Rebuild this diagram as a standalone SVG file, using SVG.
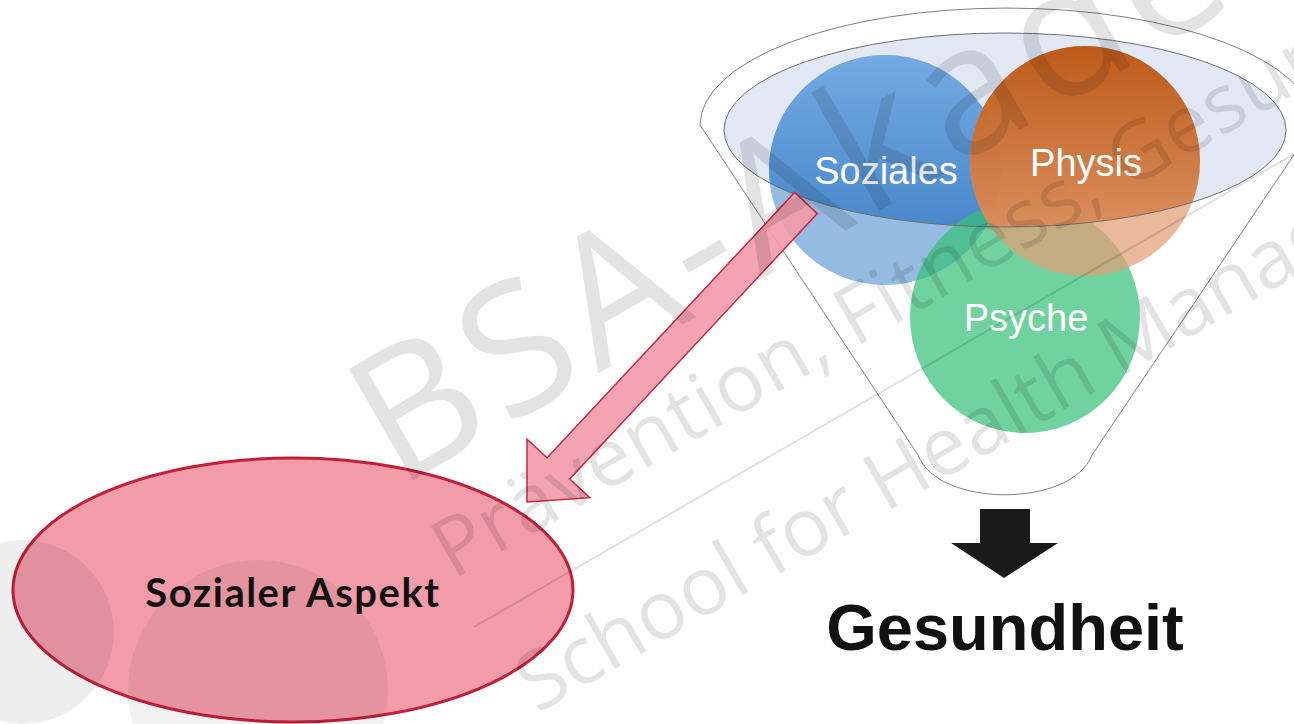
<svg xmlns="http://www.w3.org/2000/svg" width="1294" height="724" viewBox="0 0 1294 724">
  <defs>
    <style>
      .circle-label { font-family: "Liberation Sans", Arial, sans-serif; font-size: 38px; fill: #ffffff; text-anchor: middle; }
      .wm { font-family: "Open Sans", "Liberation Sans", sans-serif; font-weight: 400; fill: #000000; fill-opacity: 0.11; }
      .funnel-line { fill: none; stroke: #6f6f6f; stroke-width: 1; }
    </style>
    <linearGradient id="gSoz" x1="0" y1="0" x2="0" y2="1">
      <stop offset="0" stop-color="#74aae2"/>
      <stop offset="1" stop-color="#3b7dc3"/>
    </linearGradient>
    <linearGradient id="gPhy" x1="0" y1="0" x2="0" y2="1">
      <stop offset="0" stop-color="#b9530f"/>
      <stop offset="1" stop-color="#e39a6c"/>
    </linearGradient>
    <clipPath id="innerClip">
      <ellipse cx="1005" cy="130" rx="281" ry="97"/>
    </clipPath>
  </defs>

  <rect x="0" y="0" width="1294" height="724" fill="#ffffff"/>

  <!-- Funnel with three circles -->
  <g id="funnel">
    <path d="M700,125 A307,117 0 0 1 1314,125 L1092,455 C1072,508 938,508 918,455 Z" fill="#ffffff" stroke="#808080" stroke-width="1"/>
    <ellipse cx="1005" cy="130" rx="281" ry="97" fill="#e1e8f4"/>
  </g>

  <g id="soziales">
    <ellipse cx="885" cy="170" rx="116" ry="115" fill="#95bbe2"/>
    <ellipse cx="885" cy="170" rx="116" ry="115" fill="url(#gSoz)" clip-path="url(#innerClip)"/>
  </g>
  <g id="psyche">
    <ellipse cx="1025" cy="317" rx="115" ry="116" fill="#33c076" fill-opacity="0.7"/>
  </g>
  <g id="physis">
    <ellipse cx="1085" cy="161" rx="115" ry="115" fill="#e29c74" fill-opacity="0.72"/>
    <ellipse cx="1085" cy="161" rx="115" ry="115" fill="url(#gPhy)" fill-opacity="0.92" clip-path="url(#innerClip)"/>
  </g>
  <ellipse class="funnel-line" cx="1005" cy="130" rx="281" ry="97"/>
  <text class="circle-label" x="886" y="184">Soziales</text>
  <text class="circle-label" x="1086" y="176">Physis</text>
  <text class="circle-label" x="1026" y="331">Psyche</text>

  <!-- Sozialer Aspekt -->
  <g id="sozialer-aspekt">
    <ellipse cx="293" cy="590" rx="280" ry="132" fill="#f29ca9" stroke="#c41f39" stroke-width="3"/>
    <circle cx="22" cy="632" r="92" fill="#000000" fill-opacity="0.065"/>
    <circle cx="258" cy="690" r="130" fill="#000000" fill-opacity="0.055"/>
    <text x="293" y="607" font-family="Lato, 'Liberation Sans', sans-serif" font-weight="700" font-size="40" letter-spacing="1.5" fill="#111111" text-anchor="middle">Sozialer Aspekt</text>
  </g>

  <!-- Gesundheit -->
  <g id="gesundheit">
    <text x="1005" y="650" font-family="'Liberation Sans', Arial, sans-serif" font-weight="700" font-size="65" fill="#111111" text-anchor="middle">Gesundheit</text>
  </g>

  <!-- Connectors -->
  <g id="connectors">
    <polygon points="794.7,192.4 817.3,213.6 569.7,479 589.8,497.7 527,502 527,439.1 547.1,457.8" fill="#f29ca9" fill-opacity="0.92" stroke="#c8283c" stroke-width="1.5" stroke-linejoin="miter"/>
    <path d="M980,509 H1030 V543 H1058 L1004,578 L951,543 H980 Z" fill="#1a1a1a"/>
  </g>

  <!-- Watermark -->
  <g id="watermark">
    <text class="wm" font-size="180" letter-spacing="8" transform="translate(398,489) rotate(-30)">BSA-Akademie</text>
    <text class="wm" font-size="81" letter-spacing="1" transform="translate(453,580) rotate(-30)">Prävention, Fitness, Gesundheit</text>
    <text class="wm" font-size="81" transform="translate(537,714) rotate(-30)">School for Health Management</text>
    <line x1="474" y1="627" x2="1294" y2="154" stroke="#000000" stroke-opacity="0.12" stroke-width="2"/>
  </g>
</svg>
